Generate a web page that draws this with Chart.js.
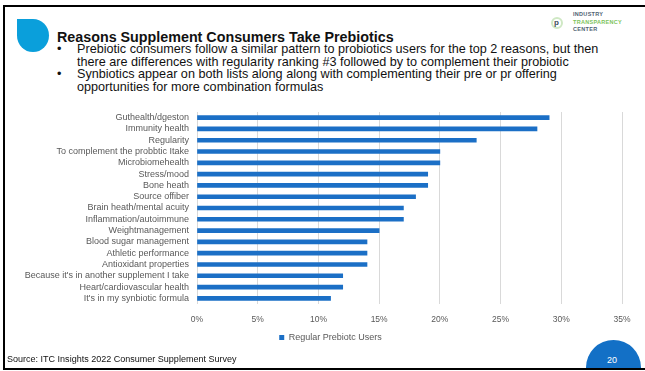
<!DOCTYPE html>
<html>
<head>
<meta charset="utf-8">
<script src="https://cdn.jsdelivr.net/npm/chart.js@4.4.1/dist/chart.umd.min.js"></script>
<style>
  html,body{margin:0;padding:0;background:#fff;}
  body{width:645px;height:371px;position:relative;overflow:hidden;font-family:"Liberation Sans",Arial,sans-serif;}
  .abs{position:absolute;white-space:nowrap;line-height:1;}
  #frame{position:absolute;left:3px;top:5px;width:700px;height:361px;border:2px solid #000;box-sizing:content-box;}
  #leaf{position:absolute;left:17px;top:19px;width:32px;height:33px;background:#0A9FDB;border-radius:0 50% 50% 50%;}
  #title{font-weight:bold;font-size:14px;color:#111;}
  .bl{font-size:12px;color:#111;}
  .dot{color:#111;}
  #pgclip{position:absolute;left:560px;top:330px;width:85px;height:38px;overflow:hidden;}
  #pg{position:absolute;left:26px;top:10px;width:55px;height:55px;border-radius:50%;background:#1370C6;}
  #pgnum{color:#fff;font-size:9px;}
  #src{font-size:9px;color:#111;}
  .lg{font-size:5.5px;font-weight:bold;letter-spacing:0.3px;}
  canvas{position:absolute;left:0;top:0;}
</style>
</head>
<body>
<div id="frame"></div>
<div id="leaf"></div>
<div class="abs" id="title" style="left:57px;" data-w="337" data-b="41.7">Reasons Supplement Consumers Take Prebiotics</div>
<div class="abs dot bl" style="left:57px;" data-b="53.7">•</div>
<div class="abs bl fitb" style="left:77px;" data-w="535" data-b="53.7">Prebiotic consumers follow a similar pattern to probiotics users for the top 2 reasons, but then</div>
<div class="abs bl fitb" style="left:77px;" data-w="467" data-b="66.4">there are differences with regularity ranking #3 followed by to complement their probiotic</div>
<div class="abs dot bl" style="left:57px;" data-b="79.1">•</div>
<div class="abs bl fitb" style="left:77px;" data-w="496" data-b="79.1">Synbiotics appear on both lists along along with complementing their pre or pr offering</div>
<div class="abs bl fitb" style="left:77px;" data-w="245" data-b="91.8">opportunities for more combination formulas</div>

<!-- logo -->
<div style="position:absolute;left:551px;top:17px;width:12px;height:12px;border-radius:50%;border:2px solid #cfe8c4;box-sizing:border-box;"></div>
<div class="abs" style="left:554px;top:19px;font-size:8px;font-weight:bold;color:#3d4d5c;">p</div>
<div class="abs lg" style="left:573px;top:12px;color:#4f6272;">INDUSTRY</div>
<div class="abs lg" style="left:573px;top:19.5px;color:#7cc35a;">TRANSPARENCY</div>
<div class="abs lg" style="left:573px;top:27px;color:#4f6272;">CENTER</div>

<canvas id="c" width="645" height="371"></canvas>

<div class="abs" id="src" style="left:7px;" data-w="230" data-b="362.5">Source: ITC Insights 2022 Consumer Supplement Survey</div>
<div id="pgclip"><div id="pg"></div></div>
<div class="abs" id="pgnum" style="left:607px;top:356px;">20</div>

<script>
const categories = [
  "Guthealth/dgeston",
  "Immunity health",
  "Regularity",
  "To complement the probbtic Itake",
  "Microbiomehealth",
  "Stress/mood",
  "Bone heath",
  "Source offiber",
  "Brain heath/mental acuity",
  "Inflammation/autoimmune",
  "Weightmanagement",
  "Blood sugar management",
  "Athletic performance",
  "Antioxidant properties",
  "Because it's in another supplement I take",
  "Heart/cardiovascular health",
  "It's in my synbiotic formula"
];
const regularPrebioticUsers = [29, 28, 23, 20, 20, 19, 19, 18, 17, 17, 15, 14, 14, 14, 12, 12, 11];
const seriesName = "Regular Prebiotc Users";
const xTickMax = 35;
const xTickStep = 5;

// size slide texts to the measured widths, place them on their baselines
function place(el, fs) {
  el.style.fontSize = fs + 'px';
  el.style.top = (+el.dataset.b - 0.8465 * fs) + 'px';
}
['title', 'src'].forEach(id => {
  const el = document.getElementById(id);
  const fs0 = parseFloat(getComputedStyle(el).fontSize);
  const w = el.getBoundingClientRect().width;
  place(el, fs0 * (+el.dataset.w) / w);
});
const bl = [...document.querySelectorAll('.fitb')];
let ratio = 0;
bl.forEach(el => { ratio += (+el.dataset.w) / el.getBoundingClientRect().width; });
const bfs = 12 * ratio / bl.length;
document.querySelectorAll('.bl').forEach(el => place(el, bfs));

const FAMILY = '"Liberation Sans", Arial, sans-serif';
const legendShift = {
  id: 'legendShift',
  afterLayout(chart) {
    const lg = chart.legend;
    if (lg) { lg.left += 19.5; lg.right += 19.5; }
  }
};
new Chart(document.getElementById('c'), {
  type: 'bar',
  data: {
    labels: categories,
    datasets: [{
      label: seriesName,
      data: regularPrebioticUsers,
      backgroundColor: '#1B6FC6',
      barThickness: 4
    }]
  },
  options: {
    indexAxis: 'y',
    responsive: false,
    animation: false,
    layout: { padding: { left: 0, right: 23, top: 112, bottom: 19 } },
    scales: {
      x: {
        min: 0, max: xTickMax,
        ticks: { stepSize: xTickStep, callback: v => v + '%', color: '#595959', font: { size: 8.5, family: FAMILY }, padding: 11 },
        grid: { color: '#D9D9D9', drawTicks: false },
        border: { display: false },
        afterFit: s => { s.height = 23; }
      },
      y: {
        ticks: { color: '#595959', font: { size: 9, family: FAMILY }, padding: 8, autoSkip: false },
        grid: { display: false, drawTicks: false },
        border: { display: false },
        afterFit: s => { s.width = 197; }
      }
    },
    plugins: {
      legend: {
        position: 'bottom',
        labels: { boxWidth: 5, boxHeight: 5, color: '#595959', font: { size: 9, family: FAMILY }, padding: 6 }
      },
      tooltip: { enabled: false }
    }
  },
  plugins: [legendShift]
});
</script>
</body>
</html>
